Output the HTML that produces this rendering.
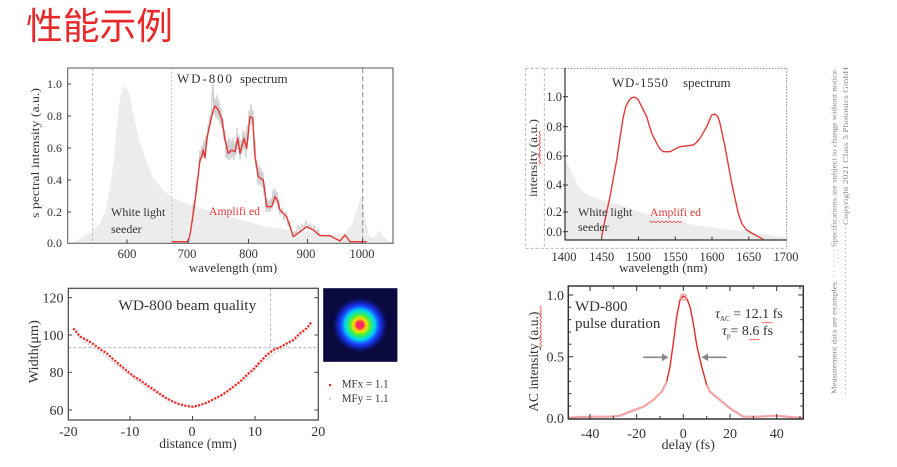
<!DOCTYPE html>
<html><head><meta charset="utf-8"><style>
html,body{margin:0;padding:0;background:#fff;}
svg{display:block;}
text{font-family:"Liberation Serif",serif;fill:#333;}
</style></head><body>
<svg width="897" height="467" viewBox="0 0 897 467" xmlns="http://www.w3.org/2000/svg">
<rect width="897" height="467" fill="#fff"/>
<!-- Title -->
<text x="26" y="39" font-size="37" textLength="147" lengthAdjust="spacingAndGlyphs" style="font-family:'Liberation Sans','Noto Sans CJK SC',sans-serif;fill:#e8292b;">性能示例</text>

<!-- ============ Chart 1: WD-800 spectrum ============ -->
<path d="M73,243 L83,237 L93,231 L100,223 L106,210 L110,187 L114,160 L117,123 L120,100 L122,90 L125,85 L128,90 L130,97 L133,113 L137,130 L140,143 L147,163 L153,177 L163,190 L173,198 L185,203 L200,208 L230,217 L267,227 L300,231 L333,235 L345,233 L352,224 L357,210 L361,196 L364,208 L367,228 L370,238 L375,237 L379,230 L383,236 L388,240 L392,242 L392,243 Z" fill="#ececec"/>
<line x1="92.7" y1="68" x2="92.7" y2="243" stroke="#aaa" stroke-width="0.8" stroke-dasharray="3,2"/>
<line x1="171.7" y1="68" x2="171.7" y2="243" stroke="#bbb" stroke-width="0.8" stroke-dasharray="2,2"/>
<line x1="362.7" y1="68" x2="362.7" y2="243" stroke="#888" stroke-width="1" stroke-dasharray="5,3"/>
<!-- gray noise -->
<path d="M192,222 L193,205 L195,200 L196,185 L198,176 L199,168 L200,150 L201,162 L202,145 L203,158 L204,140 L205,155 L206,135 L207,145 L208,125 L209,132 L210,115 L211,125 L212,95 L213,84 L214,115 L215,98 L216,118 L217,95 L218,120 L219,100 L220,125 L221,108 L222,128 L223,118 L224,140 L225,130 L226,158 L227,140 L228,160 L229,138 L230,160 L231,140 L232,158 L233,138 L234,160 L235,142 L236,155 L237,128 L238,150 L239,135 L240,160 L241,140 L242,155 L243,130 L244,150 L245,132 L246,158 L247,125 L248,140 L249,110 L250,125 L251,104 L252,125 L253,110 L254,150 L255,140 L256,168 L257,160 L258,185 L259,165 L260,185 L261,168 L262,188 L263,172 L264,195 L265,185 L266,212 L267,198 L268,212 L269,200 L270,212 L271,198 L272,210 L273,190 L274,205 L275,188 L276,203 L277,192 L278,210 L279,200 L280,215 L282,208 L284,220 L286,212 L288,225 L290,222 L292,234 L294,232 L296,234 L298,226 L300,230 L302,224 L304,228 L306,221 L308,228 L310,224 L312,230 L314,226 L316,233 L318,230 L320,236" fill="none" stroke="#cfcfcf" stroke-width="1.3"/>
<!-- red amplified -->
<path d="M171.7,241.7 L188.3,241.7 L190.5,232 L193.3,213.3 L196.5,190 L200,160 L201.7,156.7 L203.3,150 L205,158 L206.7,140 L210,123.3 L213.3,110 L215,106 L218.3,110 L221.7,118.3 L225,140 L228.3,153.3 L231.7,150 L235,151.7 L237.7,138.3 L240,153.3 L244,138.3 L246.7,148.3 L250,116.7 L252.7,118 L255,156.7 L258.3,176.7 L263.3,180 L266.7,206.7 L271.7,206.7 L275,196.7 L277.3,200 L280,210 L286.7,216.7 L293.3,236.7 L300,231.7 L306.7,226.7 L313.3,230 L320,235.7 L330,235.7 L340,241 L345,235 L350,241.7 L366.7,241.7" fill="none" stroke="#e23a3a" stroke-width="1.4" stroke-linejoin="round"/>
<rect x="67.7" y="68" width="325.3" height="175.3" fill="none" stroke="#555" stroke-width="1"/>
<g stroke="#444" stroke-width="1">
<line x1="127" y1="243" x2="127" y2="239.5"/><line x1="188" y1="243" x2="188" y2="239"/><line x1="248.5" y1="243" x2="248.5" y2="239"/><line x1="307.5" y1="243" x2="307.5" y2="239"/><line x1="362.5" y1="243" x2="362.5" y2="239"/>
<line x1="67.7" y1="84" x2="71" y2="84"/><line x1="67.7" y1="116" x2="71" y2="116"/><line x1="67.7" y1="148" x2="71" y2="148"/><line x1="67.7" y1="180" x2="71" y2="180"/><line x1="67.7" y1="212" x2="71" y2="212"/>
</g>
<g font-size="12" text-anchor="end">
<text x="62" y="88">1.0</text><text x="62" y="120">0.8</text><text x="62" y="152">0.6</text><text x="62" y="184">0.4</text><text x="62" y="216">0.2</text><text x="62" y="247">0.0</text>
</g>
<g font-size="12.5" text-anchor="middle">
<text x="127" y="258">600</text><text x="187" y="258">700</text><text x="248.5" y="258">800</text><text x="306" y="258">900</text><text x="362" y="258">1000</text>
</g>
<text x="233" y="272" font-size="13" text-anchor="middle">wavelength (nm)</text>
<text transform="translate(39,153) rotate(-90)" font-size="12" text-anchor="middle" textLength="130" lengthAdjust="spacingAndGlyphs">s pectral intensity (a.u.)</text>
<text x="177" y="83" font-size="13" textLength="55" lengthAdjust="spacing">WD-800</text>
<text x="240" y="83" font-size="13">spectrum</text>
<text x="111" y="216" font-size="12">White light</text>
<text x="111" y="233" font-size="12">seeder</text>
<text x="209" y="215" font-size="12" style="fill:#e23a3a" textLength="51" lengthAdjust="spacingAndGlyphs">Amplifi ed</text>

<!-- ============ Chart 2: WD-1550 spectrum ============ -->
<path d="M565,158 L572,173 L578,186 L585,193 L592,197 L602,200 L620,205 L643,213 L670,220 L700,226 L743,231 L786,237.5 L786,240 L565,240 Z" fill="#ececec"/>
<g fill="none" stroke="#aaa" stroke-width="0.8" stroke-dasharray="3,2">
<line x1="525.7" y1="68.3" x2="565" y2="68.3"/>
<line x1="525.7" y1="68.3" x2="525.7" y2="248.3"/>
<line x1="544.3" y1="68.3" x2="544.3" y2="248.3"/>
<line x1="525.7" y1="248.3" x2="786.7" y2="248.3"/>
</g>
<g fill="none" stroke="#777" stroke-width="0.9" stroke-dasharray="1.5,1.5">
<line x1="565" y1="68.3" x2="786.7" y2="68.3"/>
<line x1="786.7" y1="68.3" x2="786.7" y2="248.3"/>
</g>
<line x1="565" y1="68" x2="565" y2="240.5" stroke="#333" stroke-width="1.2"/>
<line x1="565" y1="240" x2="786.7" y2="240" stroke="#333" stroke-width="1.2"/>
<g stroke="#333" stroke-width="1">
<line x1="601.7" y1="240" x2="601.7" y2="236.5"/><line x1="638.5" y1="240" x2="638.5" y2="236.5"/><line x1="675.3" y1="240" x2="675.3" y2="236.5"/><line x1="712" y1="240" x2="712" y2="236.5"/><line x1="748.8" y1="240" x2="748.8" y2="236.5"/>
<line x1="563" y1="96.7" x2="568" y2="96.7"/><line x1="563" y1="126.7" x2="568" y2="126.7"/><line x1="563" y1="156" x2="568" y2="156"/><line x1="563" y1="185" x2="568" y2="185"/><line x1="563" y1="212" x2="568" y2="212"/><line x1="563" y1="231.7" x2="568" y2="231.7"/>
</g>
<path d="M601.7,236.7 L605,220 L610,196.7 L616.7,160 L620,138 L623.3,116.7 L626,106 L629.3,100 L632,97.5 L635,97.3 L638,99.5 L640,103.3 L646.7,116.7 L651.7,133.3 L656.7,143.3 L660,149 L663.3,151.7 L670,151.7 L675,149 L680,146.7 L693.3,145 L697,142 L700,138.3 L706.7,126.7 L711.7,115 L715,114 L718,117 L720,123.3 L725,146.7 L731.7,183.3 L738.3,213.3 L742,224 L746.7,230 L755,235 L763.3,239.3" fill="none" stroke="#e23a3a" stroke-width="1.4" stroke-linejoin="round"/>
<g font-size="12.5" text-anchor="end">
<text x="562" y="101">1.0</text><text x="562" y="131">0.8</text><text x="562" y="160">0.6</text><text x="562" y="189">0.4</text><text x="562" y="216">0.2</text><text x="562" y="236">0.0</text>
</g>
<g font-size="12.5" text-anchor="middle">
<text x="564" y="261">1400</text><text x="601.7" y="261">1450</text><text x="638.5" y="261">1500</text><text x="675.3" y="261">1550</text><text x="712" y="261">1600</text><text x="748.8" y="261">1650</text><text x="786" y="261">1700</text>
</g>
<text x="663.3" y="272" font-size="13" text-anchor="middle">wavelength (nm)</text>
<text transform="translate(537,158) rotate(-90)" font-size="12" text-anchor="middle" textLength="78" lengthAdjust="spacingAndGlyphs">intensity (a.u.)</text>
<path d="M539,165 l1.5,-2 l-1.5,-2 l1.5,-2 l-1.5,-2 l1.5,-2 l-1.5,-2 l1.5,-2 l-1.5,-2 l1.5,-2 l-1.5,-2 l1.5,-2 l-1.5,-2 l1.5,-2 l-1.5,-2 l1.5,-2 l-1.5,-2 l1.5,-2" fill="none" stroke="#e33" stroke-width="0.7"/>
<text x="612" y="87" font-size="13" textLength="56" lengthAdjust="spacing">WD-1550</text>
<text x="683" y="87" font-size="13">spectrum</text>
<text x="578" y="216" font-size="12">White light</text>
<text x="578" y="231" font-size="12">seeder</text>
<text x="650" y="216" font-size="12" style="fill:#e23a3a" textLength="51" lengthAdjust="spacingAndGlyphs">Amplifi ed</text>
<path d="M650,221 l2,1.5 l2,-1.5 l2,1.5 l2,-1.5 l2,1.5 l2,-1.5 l2,1.5 l2,-1.5 l2,1.5 l2,-1.5 l2,1.5 l2,-1.5 l2,1.5 l2,-1.5 l2,1.5 l2,-1.5" fill="none" stroke="#e33" stroke-width="0.7"/>

<!-- ============ Chart 3: beam quality ============ -->
<line x1="68.3" y1="347.7" x2="318.3" y2="347.7" stroke="#aaa" stroke-width="0.8" stroke-dasharray="3,2"/>
<line x1="270.7" y1="288.3" x2="270.7" y2="347.7" stroke="#aaa" stroke-width="0.8" stroke-dasharray="3,2"/>
<line x1="270.7" y1="347.7" x2="270.7" y2="363" stroke="#ddd" stroke-width="0.8" stroke-dasharray="2,2"/>
<path d="M76,330 L86.7,343 L100,352 L113.3,362 L126.7,373 L140,382.5 L153.3,391 L166.7,399.5 L180,405 L193.3,407.5 L206.7,403.5 L220,397 L233.3,388 L246.7,377.5 L260,364 L273.3,354 L286.7,346 L300,336 L311.7,324" fill="none" stroke="#d8d8d8" stroke-width="2" stroke-dasharray="2,1.6"/>
<path d="M73.3,328.3 L80,336.7 L86.7,340 L93.3,344 L100,349 L106.7,353.3 L113.3,359.3 L120,365 L126.7,370.7 L133.3,376 L140,380 L146.7,385 L153.3,389.3 L160,394 L166.7,398.3 L173.3,401.7 L180,404.3 L186.7,406 L193.3,406.7 L200,405 L206.7,402.7 L213.3,399.3 L220,396 L226.7,391.7 L233.3,386.7 L240,381.7 L246.7,375 L253.3,369.3 L260,362 L266.7,355 L273.3,350 L280,347.3 L286.7,343.3 L293.3,340 L300,333.3 L306.7,328.3 L311.7,321.7" fill="none" stroke="#ee2a2a" stroke-width="2.2" stroke-dasharray="2.2,1.3"/>
<rect x="68.3" y="288.3" width="250" height="131.7" fill="none" stroke="#444" stroke-width="1.2"/>
<g stroke="#444" stroke-width="1">
<line x1="68.3" y1="297.7" x2="72" y2="297.7"/><line x1="68.3" y1="335" x2="72" y2="335"/><line x1="68.3" y1="372.3" x2="72" y2="372.3"/><line x1="68.3" y1="410" x2="72" y2="410"/>
<line x1="318.3" y1="297.7" x2="314.5" y2="297.7"/><line x1="318.3" y1="335" x2="314.5" y2="335"/><line x1="318.3" y1="372.3" x2="314.5" y2="372.3"/><line x1="318.3" y1="410" x2="314.5" y2="410"/>
<line x1="130" y1="420" x2="130" y2="416"/><line x1="192.5" y1="420" x2="192.5" y2="416"/><line x1="255" y1="420" x2="255" y2="416"/>
</g>
<g font-size="14" text-anchor="end">
<text x="63.5" y="302.5">120</text><text x="63.5" y="340">100</text><text x="63.5" y="377">80</text><text x="63.5" y="415">60</text>
</g>
<g font-size="14" text-anchor="middle">
<text x="68.3" y="436">-20</text><text x="130" y="436">-10</text><text x="192" y="436">0</text><text x="255" y="436">10</text><text x="318.3" y="436">20</text>
</g>
<text x="198" y="448" font-size="13.5" text-anchor="middle">distance (mm)</text>
<text transform="translate(38,351.7) rotate(-90)" font-size="13.5" text-anchor="middle" textLength="63" lengthAdjust="spacingAndGlyphs">Width(μm)</text>
<text x="118.3" y="310" font-size="15" textLength="138" lengthAdjust="spacingAndGlyphs">WD-800  beam quality</text>
<defs>
<radialGradient id="beam" cx="360" cy="325" r="27" gradientUnits="userSpaceOnUse">
<stop offset="0" stop-color="#ff2a9a"/>
<stop offset="0.12" stop-color="#ff2a50"/>
<stop offset="0.24" stop-color="#ffe000"/>
<stop offset="0.38" stop-color="#40f040"/>
<stop offset="0.55" stop-color="#00d8f0"/>
<stop offset="0.72" stop-color="#1a40ff"/>
<stop offset="0.88" stop-color="#101a90"/>
<stop offset="1" stop-color="#0a0a40"/>
</radialGradient>
</defs>
<rect x="323.3" y="288.3" width="74" height="73.4" fill="#0a0a40"/>
<rect x="323.3" y="288.3" width="74" height="73.4" fill="url(#beam)"/>
<rect x="329" y="384" width="2.2" height="2.2" fill="#ee2a2a"/>
<rect x="329" y="398" width="2" height="2" fill="#d0d0d0"/>
<text x="341.7" y="387.5" font-size="12" textLength="47" lengthAdjust="spacingAndGlyphs">MFx = 1.1</text>
<text x="341.7" y="402" font-size="12" textLength="47" lengthAdjust="spacingAndGlyphs">MFy = 1.1</text>

<!-- ============ Chart 4: AC ============ -->
<path d="M568.3,417.7 L580,417 L593.3,416.7 L610,416.7 L620,415.7 L630,411.7 L643.3,406.7 L653.3,400 L661.7,391.7 L666.7,381.7" fill="none" stroke="#f2a3a3" stroke-width="2.2" stroke-linejoin="round"/>
<path d="M706.7,385 L710,391.7 L720,400 L730,408.3 L743.3,416.7 L756.7,416.7 L776.7,415.7 L790,417 L803,418" fill="none" stroke="#f2a3a3" stroke-width="2.2" stroke-linejoin="round"/>
<path d="M666.7,381.7 L670,366.7 L673.3,343.3 L676.7,316.7 L680,300 L683.3,296 L686.7,298.3 L690,306.7 L693.3,323.3 L696.7,345 L701.7,366.7 L706.7,385" fill="none" stroke="#e22a2a" stroke-width="1.4" stroke-linejoin="round"/>
<circle cx="683.3" cy="297" r="3" fill="none" stroke="#f2a3a3" stroke-width="1.4"/>
<rect x="568.3" y="286" width="235" height="133" fill="none" stroke="#333" stroke-width="1.5"/>
<g stroke="#333" stroke-width="1">
<path d="M568.3,295 h5 M568.3,307.3 h3 M568.3,319.6 h3 M568.3,332 h3 M568.3,344.3 h3 M568.3,356.7 h5 M568.3,369 h3 M568.3,381.3 h3 M568.3,393.6 h3 M568.3,406 h3"/>
<path d="M803.3,295 h-5 M803.3,307.3 h-3 M803.3,319.6 h-3 M803.3,332 h-3 M803.3,344.3 h-3 M803.3,356.7 h-5 M803.3,369 h-3 M803.3,381.3 h-3 M803.3,393.6 h-3 M803.3,406 h-3"/>
<path d="M590,419 v-5 M613.3,419 v-3 M636.7,419 v-5 M660,419 v-3 M683.3,419 v-5 M706.7,419 v-3 M730,419 v-5 M753.3,419 v-3 M776.7,419 v-5 M800,419 v-3"/>
<path d="M590,286 v5 M613.3,286 v3 M636.7,286 v5 M660,286 v3 M683.3,286 v5 M706.7,286 v3 M730,286 v5 M753.3,286 v3 M776.7,286 v5 M800,286 v3"/>
</g>
<g font-size="14" text-anchor="end">
<text x="564" y="300">1.0</text><text x="564" y="361.5">0.5</text><text x="564" y="423">0.0</text>
</g>
<g font-size="14" text-anchor="middle">
<text x="590" y="438">-40</text><text x="636.7" y="438">-20</text><text x="683.3" y="438">0</text><text x="730" y="438">20</text><text x="776.7" y="438">40</text>
</g>
<text x="688.3" y="449" font-size="14" text-anchor="middle">delay (fs)</text>
<text transform="translate(538,361.7) rotate(-90)" font-size="14" text-anchor="middle" textLength="100" lengthAdjust="spacingAndGlyphs">AC intensity (a.u.)</text>
<path d="M540,348 l1.5,-2 l-1.5,-2 l1.5,-2 l-1.5,-2 l1.5,-2 l-1.5,-2 l1.5,-2 l-1.5,-2 l1.5,-2 l-1.5,-2 l1.5,-2 l-1.5,-2 l1.5,-2 l-1.5,-2 l1.5,-2 l-1.5,-2 l1.5,-2 l-1.5,-2 l1.5,-2 l-1.5,-2 l1.5,-2" fill="none" stroke="#e33" stroke-width="0.7"/>
<text x="575" y="311" font-size="15">WD-800</text>
<text x="575" y="328" font-size="15">pulse duration</text>
<text x="715" y="318" font-size="14"><tspan font-style="italic">τ</tspan><tspan font-size="7" dy="3">AC</tspan><tspan dy="-3"> = 12.1 fs</tspan></text>
<text x="722" y="335" font-size="14"><tspan font-style="italic">τ</tspan><tspan font-size="7" dy="3">p</tspan><tspan dy="-3">= 8.6 fs</tspan></text>
<path d="M762,322 l1.5,1 l1.5,-1 l1.5,1 l1.5,-1 l1.5,1 l1.5,-1 l1.5,1 M749,339 l1.5,1 l1.5,-1 l1.5,1 l1.5,-1 l1.5,1 l1.5,-1 l1.5,1" fill="none" stroke="#e33" stroke-width="0.7"/>
<g stroke="#888" stroke-width="1.6" fill="#888">
<line x1="643.3" y1="357.3" x2="664" y2="357.3"/>
<path d="M668.5,357.3 L662,353.5 L662,361.1 Z" stroke="none"/>
<line x1="726.7" y1="357.3" x2="706" y2="357.3"/>
<path d="M701.5,357.3 L708,353.5 L708,361.1 Z" stroke="none"/>
</g>

<!-- ============ right vertical notice ============ -->
<text transform="translate(836.5,231) rotate(-90)" font-size="7" text-anchor="middle" textLength="326" lengthAdjust="spacingAndGlyphs" style="fill:#8a8a8a">Measurement data are examples. · · · · · · Specifications are subject to change without notice.</text>
<text transform="translate(848,146) rotate(-90)" font-size="7" text-anchor="middle" textLength="158" lengthAdjust="spacingAndGlyphs" style="fill:#8a8a8a">Copyright 2021 Class 5 Photonics GmbH</text>
<line x1="845.5" y1="228" x2="845.5" y2="395" stroke="#aaa" stroke-width="0.9" stroke-dasharray="1,3"/>
<line x1="838" y1="250" x2="838" y2="265" stroke="#aaa" stroke-width="0.9" stroke-dasharray="1,3"/>
</svg>
</body></html>
